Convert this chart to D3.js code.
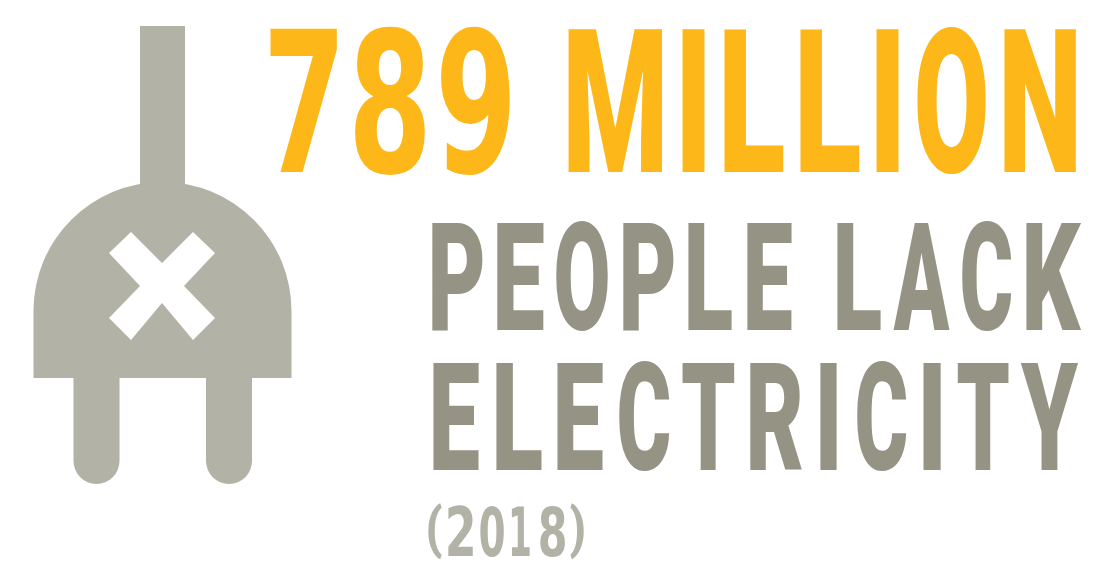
<!DOCTYPE html>
<html><head><meta charset="utf-8"><script src="https://cdn.jsdelivr.net/npm/d3@7"></script>
<style>html,body{margin:0;background:#fff}svg{display:block}</style></head><body><svg id="c" width="1094" height="566"></svg>
<script>
const headline = "789 MILLION";
const bodyLines = ["PEOPLE LACK", "ELECTRICITY"];
const year = "(2018)";
const plugGrey = "#b2b2a6", bodyGrey = "#959484", gold = "#fdb718";
// layout: left/right ink edge of each visible glyph, and cap top/baseline of each line
const headBoxes = [[270,338],[354,425],[441,510],[568,663],[682,705],[724,784],[800,860],[876,899],[917,986],[1004,1076]];
const line1Boxes = [[432,483],[497,544],[556,608],[623,674],[688,732],[747,792],[837,881],[893,950],[962,1012],[1026,1081]];
const line2Boxes = [[433,479],[496,542],[557,603],[619,670],[682,735],[750,802],[820,837],[857,907],[923,941],[957,1009],[1020,1078]];
const yearBoxes = [[428,442],[448,473],[480,504],[512,530],[540,565],[570,584]];
const svg = d3.select("#c");
const g = svg.append("g");
// plug icon
const head = d3.path();
head.moveTo(33.5,378); head.lineTo(33.5,311);
head.arc(162.5,311,129,Math.PI,2*Math.PI);
head.lineTo(291.5,378); head.closePath();
g.append("path").attr("d",head.toString()).attr("fill",plugGrey);
g.append("rect").attr("x",140).attr("y",26).attr("width",45).attr("height",170).attr("fill",plugGrey);
[73.5,206].forEach(x=>{
  const p=d3.path();
  p.moveTo(x,370);p.lineTo(x+46,370);p.lineTo(x+46,461);p.arc(x+23,461,23,0,Math.PI);p.closePath();
  g.append("path").attr("d",p.toString()).attr("fill",plugGrey);
});
g.append("polygon").attr("fill","#fff")
 .attr("points","109,253 131,232 162,263 193,232 215,253 184,286 215,318 193,340 162,303 131,340 109,318 140,286");
// text: one text element per line; each glyph is a tspan stretched to its box
const ctx=document.createElement("canvas").getContext("2d");
const FS=100, CAP=71.1;
function face(c){return /[0-9]/.test(c)?{family:"DejaVu Sans",weight:700,k:0.711/0.729}:{family:"Roboto",weight:900,k:1};}
function ink(ch,fs){const F=face(ch);ctx.font=`${F.weight} ${fs}px "${F.family}"`;const m=ctx.measureText(ch);return {l:-m.actualBoundingBoxLeft,r:m.actualBoundingBoxRight,a:m.actualBoundingBoxAscent,d:m.actualBoundingBoxDescent,adv:m.width};}
function fit(str,boxes,y0,y1,fill,tall){
  const sy=(y1-y0)/CAP;
  const t=svg.append("text").attr("font-family","Roboto").attr("font-weight",900).attr("font-size",FS)
    .attr("fill",fill).attr("transform",`translate(0,${y1}) scale(1,${sy})`);
  let k=0;
  [...str].forEach(c=>{
    if(c===" "){t.append("tspan").text(" ");return;}
    const b=boxes[k++], F=face(c);
    let fs=FS*F.k,base=0;
    if(tall && "()".includes(c)){
      const i0=ink(c,FS);
      fs=FS*((tall[1]-tall[0])/sy)/(i0.a+i0.d);
      base=(tall[1]-y1)/sy-ink(c,fs).d;
    }
    const i=ink(c,fs), f=(b[1]-b[0])/(i.r-i.l);
    t.append("tspan").text(c).attr("font-family",F.family).attr("font-weight",F.weight).attr("font-size",fs)
      .attr("x",b[0]-i.l*f).attr("y",base)
      .attr("textLength",i.adv*f).attr("lengthAdjust","spacingAndGlyphs");
  });
}
fit(headline,headBoxes,29,172,gold);
fit(bodyLines[0],line1Boxes,223,330,bodyGrey);
fit(bodyLines[1],line2Boxes,363,470,bodyGrey);
fit(year,yearBoxes,507,556,plugGrey,[503,559]);
</script></body></html>
